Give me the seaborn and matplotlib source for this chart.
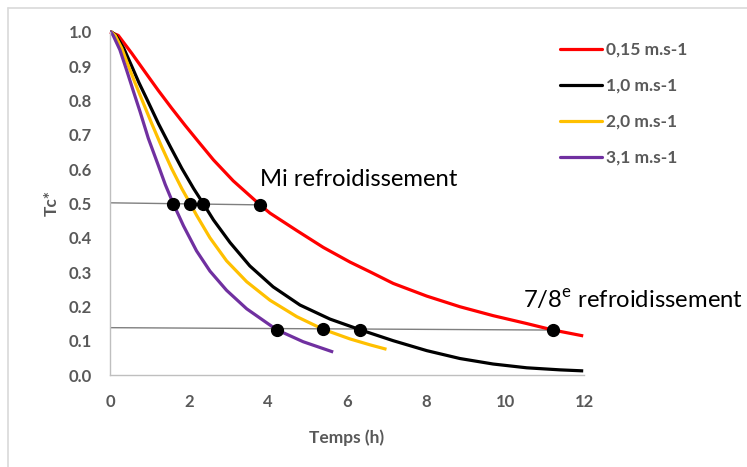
import numpy as np
import pandas as pd
import matplotlib
matplotlib.use("Agg")
import matplotlib.pyplot as plt
from matplotlib.lines import Line2D
import seaborn as sns

# Series labels and colours
series = ["0,15 m.s-1", "1,0 m.s-1", "2,0 m.s-1", "3,1 m.s-1"]
colors = ["#FF0000", "#000000", "#FFC000", "#7030A0"]

# Dimensionless core temperature Tc* versus time (h) for each air speed
t_015 = [0.0, 0.21, 0.55, 0.89, 1.22, 1.56, 1.90, 2.24, 2.62, 3.12, 3.80, 4.05,
         4.73, 5.40, 6.08, 6.58, 7.17, 8.02, 8.86, 9.70, 10.55, 11.22, 11.98]
tc_015 = [1.0, 0.990, 0.938, 0.883, 0.830, 0.778, 0.728, 0.680, 0.627, 0.566,
          0.496, 0.472, 0.421, 0.372, 0.329, 0.301, 0.267, 0.230, 0.199, 0.173,
          0.150, 0.131, 0.114]

t_10 = [0.0, 0.04, 0.15, 0.35, 0.54, 0.73, 0.93, 1.23, 1.53, 1.82, 2.12, 2.36,
        2.62, 3.04, 3.54, 4.13, 4.81, 5.57, 6.33, 7.17, 8.02, 8.86, 9.70, 10.55,
        11.39, 11.98]
tc_10 = [1.0, 1.0, 0.990, 0.952, 0.903, 0.853, 0.805, 0.732, 0.665, 0.602, 0.543,
         0.500, 0.452, 0.386, 0.318, 0.257, 0.204, 0.163, 0.132, 0.100, 0.071,
         0.048, 0.032, 0.021, 0.015, 0.012]

t_20 = [0.0, 0.03, 0.13, 0.30, 0.46, 0.63, 0.80, 1.06, 1.31, 1.56, 1.82, 2.03,
        2.19, 2.53, 2.95, 3.46, 4.05, 4.73, 5.40, 6.08, 6.58, 7.0]
tc_20 = [1.0, 1.0, 0.990, 0.952, 0.903, 0.853, 0.805, 0.732, 0.665, 0.602, 0.543,
         0.500, 0.466, 0.400, 0.333, 0.272, 0.218, 0.170, 0.133, 0.105, 0.088,
         0.075]

t_31 = [0.0, 0.02, 0.08, 0.25, 0.42, 0.59, 0.76, 0.97, 1.22, 1.40, 1.60, 1.86,
        2.19, 2.53, 2.95, 3.46, 3.97, 4.22, 4.89, 5.65]
tc_31 = [1.0, 1.0, 0.990, 0.948, 0.889, 0.828, 0.768, 0.690, 0.612, 0.555, 0.500,
         0.435, 0.362, 0.303, 0.247, 0.193, 0.152, 0.132, 0.097, 0.067]

# Half-cooling and 7/8 cooling times (marked points)
half_t = [1.60, 2.03, 2.36, 3.80]
half_tc = [0.500, 0.500, 0.500, 0.496]
eighth_t = [4.22, 5.40, 6.33, 11.22]
eighth_tc = [0.132, 0.133, 0.132, 0.131]

# Reference levels drawn as thin guide lines
half_line_t = [0.0, 3.80]
half_line_tc = [0.502, 0.496]
eighth_line_t = [0.0, 11.22]
eighth_line_tc = [0.138, 0.131]

x_ticks = [0, 2, 4, 6, 8, 10, 12]
y_ticks = [0.0, 0.1, 0.2, 0.3, 0.4, 0.5, 0.6, 0.7, 0.8, 0.9, 1.0]

frames = []
for name, t, tc in zip(series, [t_015, t_10, t_20, t_31], [tc_015, tc_10, tc_20, tc_31]):
    frames.append(pd.DataFrame({"Temps": t, "Tc": tc, "Vitesse": name}))
df = pd.concat(frames, ignore_index=True)

sns.set_style("white")
plt.rcParams["font.family"] = ["Lato", "DejaVu Sans"]
plt.rcParams["mathtext.fontset"] = "custom"
plt.rcParams["mathtext.rm"] = "Lato"

W, H = 747, 467
fig = plt.figure(figsize=(W / 100, H / 100), dpi=100)
ax = fig.add_axes([110 / W, 1 - 375 / H, (584 - 110) / W, (375 - 32) / H])

grey_txt = "#595959"
axis_grey = "#BFBFBF"

# Guide lines behind the curves
ax.plot(half_line_t, half_line_tc, color="#7F7F7F", lw=1.0, zorder=1)
ax.plot(eighth_line_t, eighth_line_tc, color="#7F7F7F", lw=1.0, zorder=1)

sns.lineplot(data=df, x="Temps", y="Tc", hue="Vitesse", hue_order=series,
             palette=colors, sort=False, estimator=None, lw=2.3, ax=ax,
             legend=False, zorder=2)
for ln in ax.get_lines():
    ln.set_clip_on(False)
    ln.set_solid_capstyle("butt")
    ln.set_solid_joinstyle("round")

ax.plot(half_t, half_tc, "o", color="black", ms=8.5, zorder=4, clip_on=False)
ax.plot(eighth_t, eighth_tc, "o", color="black", ms=8.5, zorder=4, clip_on=False)

ax.set_xlim(0, 12)
ax.set_ylim(0, 1.0)
ax.set_xticks(x_ticks)
ax.set_yticks(y_ticks)
ax.set_yticklabels([f"{v:.1f}" for v in y_ticks])
ax.set_xticklabels([str(v) for v in x_ticks])

for s in ["top", "right"]:
    ax.spines[s].set_visible(False)
for s in ["left", "bottom"]:
    ax.spines[s].set_color(axis_grey)
    ax.spines[s].set_linewidth(1.0)
ax.tick_params(axis="both", direction="out", length=5, width=1.0, color=axis_grey,
               labelcolor=grey_txt, labelsize=12)
ax.tick_params(axis="y", pad=8)
ax.tick_params(axis="x", pad=9)
for lab in ax.get_xticklabels() + ax.get_yticklabels():
    lab.set_fontweight("bold")

ax.set_xlabel("Temps (h)", fontsize=12.5, fontweight="bold", color=grey_txt,
              labelpad=14)
ax.set_ylabel("Tc*", fontsize=12.5, fontweight="bold", color=grey_txt, labelpad=6)

# Annotations
ax.text(3.80, 0.551, "Mi refroidissement", fontsize=17.2, color="black",
        ha="left", va="baseline")
ax.text(10.46, 0.195, r"7/8$^{\mathrm{e}}$ refroidissement", fontsize=17.2,
        color="black", ha="left", va="baseline", clip_on=False)

# Legend
handles = [Line2D([0], [0], color=c, lw=2.3) for c in colors]
fs = 12.5
leg = fig.legend(handles, series, loc="upper left",
                 bbox_to_anchor=(553 / W, 1 - 35 / H), frameon=False,
                 fontsize=fs, handlelength=2.4, handletextpad=0.23,
                 labelspacing=1.15, borderaxespad=0)
for txt in leg.get_texts():
    txt.set_color(grey_txt)
    txt.set_fontweight("bold")

# Outer chart frame
frame_col = "#D9D9D9"
fig.add_artist(Line2D([8 / W, 8 / W], [0, 1 - 8 / H], color=frame_col, lw=1.2,
                      transform=fig.transFigure))
fig.add_artist(Line2D([8 / W, 1], [1 - 8 / H, 1 - 8 / H], color=frame_col, lw=1.2,
                      transform=fig.transFigure))

fig.savefig("out.png", dpi=100)
